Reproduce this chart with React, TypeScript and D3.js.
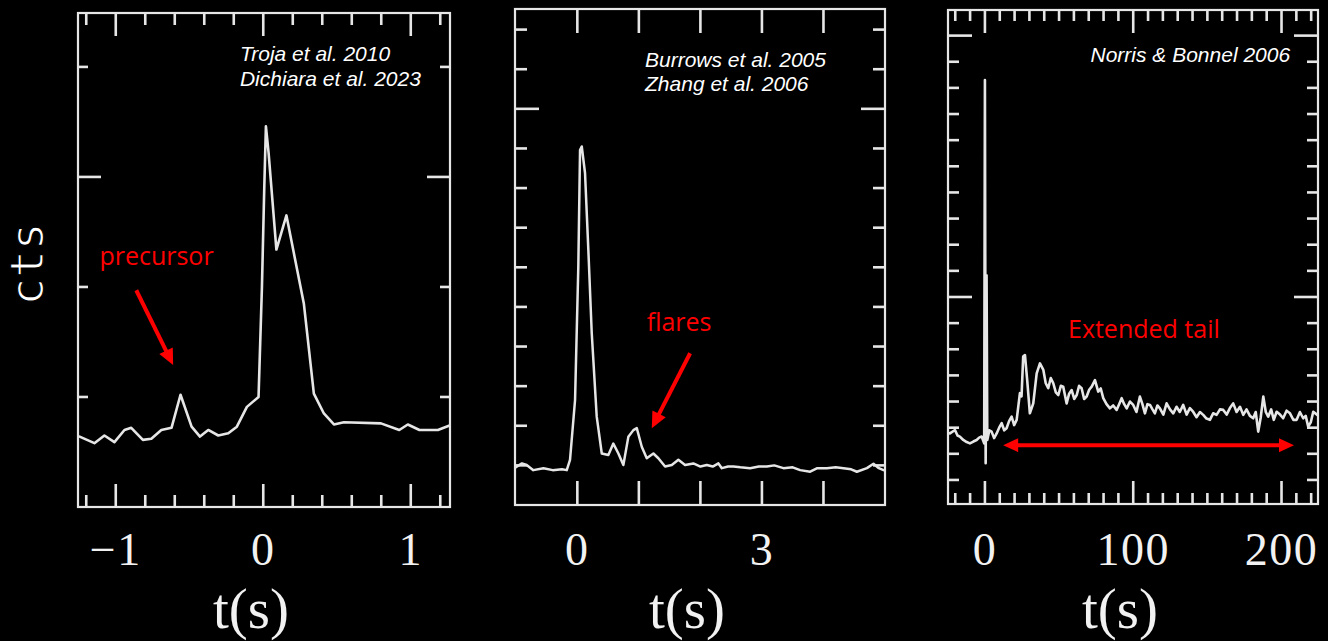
import React from "react";
import * as d3 from "d3";

// ---------- DATA ----------
// Panel 1 (Troja et al. 2010 / Dichiara et al. 2023): [t (s), counts]
const panel1Series: [number, number][] = [
  [-1.245, 0.64], [-1.145, 0.58], [-1.077, 0.65], [-1.009, 0.59], [-0.941, 0.7],
  [-0.895, 0.72], [-0.816, 0.61], [-0.759, 0.62], [-0.691, 0.7], [-0.622, 0.72],
  [-0.561, 1.02], [-0.486, 0.73], [-0.429, 0.64], [-0.373, 0.7], [-0.305, 0.65],
  [-0.237, 0.67], [-0.179, 0.73], [-0.111, 0.91], [-0.032, 1.0], [-0.009, 2.0],
  [0.007, 2.91], [0.018, 3.46], [0.036, 3.22], [0.089, 2.34], [0.157, 2.65],
  [0.207, 2.31], [0.275, 1.85], [0.343, 1.03], [0.411, 0.85], [0.479, 0.75],
  [0.547, 0.77], [0.798, 0.76], [0.922, 0.7], [0.98, 0.75], [1.059, 0.7],
  [1.184, 0.7], [1.263, 0.74],
];
// Panel 2 (Burrows et al. 2005 / Zhang et al. 2006)
const panel2Series: [number, number][] = [
  [-1.0, 0.95], [-0.985, 0.97], [-0.9, 1.05], [-0.823, 1.01], [-0.715, 0.88],
  [-0.55, 0.93], [-0.4, 0.88], [-0.25, 0.9], [-0.172, 0.88], [-0.119, 1.14],
  [-0.037, 2.65], [0.016, 6.02], [0.044, 8.96], [0.072, 9.05], [0.125, 8.38],
  [0.179, 6.44], [0.234, 4.34], [0.315, 2.23], [0.397, 1.3], [0.504, 1.26],
  [0.585, 1.55], [0.667, 1.3], [0.748, 1.01], [0.829, 1.72], [0.911, 1.89],
  [0.966, 1.94], [1.047, 1.47], [1.128, 1.18], [1.236, 1.3], [1.317, 1.18],
  [1.426, 0.97], [1.535, 1.01], [1.642, 1.14], [1.751, 1.01], [1.886, 1.05],
  [2.0, 0.97], [2.104, 1.01], [2.2, 0.97], [2.293, 1.05], [2.348, 0.93],
  [2.45, 0.97], [2.537, 0.97], [2.65, 0.95], [2.808, 0.93], [2.95, 0.97],
  [3.08, 0.97], [3.2, 1.0], [3.35, 0.93], [3.5, 0.95], [3.621, 0.88],
  [3.784, 0.84], [3.9, 0.93], [4.055, 0.93], [4.2, 0.95], [4.325, 0.93],
  [4.45, 0.9], [4.543, 0.84], [4.706, 0.93], [4.813, 1.04], [4.9, 0.93],
  [4.976, 0.88],
];
// Panel 3 (Norris & Bonnel 2006)
const panel3Series: [number, number][] = [
  [-24.5, 4.8], [-23.6, 4.78], [-20.2, 4.91], [-18.5, 4.7], [-16.9, 4.66],
  [-14.6, 4.53], [-12.3, 4.45], [-10.1, 4.4], [-7.8, 4.47], [-5.6, 4.53],
  [-3.9, 4.62], [-2.2, 4.66], [-0.5, 4.4], [0, 18.3], [0.5, 3.64], [1.1, 10.83],
  [1.6, 4.53], [3.0, 4.9], [4.5, 4.85], [6.2, 4.6], [7.9, 4.78], [9.6, 5.0],
  [11.3, 5.17], [13.0, 4.9], [14.6, 4.98], [16.3, 5.25], [18.0, 5.42], [19.7, 5.1],
  [21.4, 5.3], [23.6, 6.32], [24.7, 6.2], [25.8, 7.72], [27.0, 7.78], [28.5, 6.82],
  [30.3, 5.55], [32.6, 5.93], [34.9, 7.08], [37.1, 7.46], [39.4, 7.21], [41.0, 6.7],
  [42.7, 6.51], [44.4, 6.9], [46.1, 6.7], [47.8, 6.35], [49.5, 6.25], [51.2, 6.6],
  [52.8, 6.57], [55.1, 5.93], [56.8, 6.3], [58.5, 6.44], [60.2, 6.1], [61.9, 6.25],
  [63.5, 6.6], [65.2, 6.51], [66.9, 6.1], [68.6, 6.19], [70.3, 6.45], [72.0, 6.57],
  [74.2, 6.82], [76.4, 6.38], [78.1, 6.5], [79.8, 6.13], [82.0, 5.9], [84.3, 5.74],
  [86.5, 5.85], [88.8, 5.68], [90.5, 5.9], [92.2, 6.13], [93.9, 5.9], [95.6, 5.74],
  [97.8, 6.0], [100.0, 5.87], [102.2, 5.6], [104.5, 6.19], [106.2, 5.9], [107.9, 5.55],
  [109.6, 5.9], [111.3, 5.87], [113.0, 5.7], [114.6, 5.55], [116.3, 5.85], [118.0, 5.74],
  [120.3, 5.5], [122.5, 5.93], [124.8, 5.7], [127.0, 5.55], [129.2, 5.8], [131.4, 5.6],
  [133.7, 5.87], [136.0, 5.5], [138.2, 5.75], [140.4, 5.61], [142.7, 5.4], [145.0, 5.6],
  [147.2, 5.49], [149.4, 5.35], [151.7, 5.3], [153.9, 5.55], [156.2, 5.49], [158.5, 5.7],
  [160.7, 5.68], [163.0, 5.5], [165.2, 5.75], [167.4, 5.93], [169.7, 5.6], [172.0, 5.8],
  [174.2, 5.49], [176.4, 5.7], [178.7, 5.45], [180.9, 5.36], [182.6, 5.6], [184.3, 4.85],
  [186.0, 5.4], [187.7, 6.19], [189.4, 5.6], [191.0, 5.42], [193.0, 5.7], [194.8, 5.3],
  [196.7, 5.61], [199.0, 5.5], [201.1, 5.36], [203.4, 5.65], [205.7, 5.55], [208.0, 5.3],
  [210.2, 5.3], [212.4, 5.6], [214.6, 5.36], [216.3, 5.45], [218.0, 5.04], [219.7, 5.2],
  [221.4, 5.61], [224.1, 5.49],
];

// Tick values
const p1MinorX = [-1.2, -1.0, -0.8, -0.6, -0.4, -0.2, 0, 0.2, 0.4, 0.6, 0.8, 1.0, 1.2];
const p1MajorX = [-1, 0, 1];
const p1LabelsX = ["\u22121", "0", "1"];
const p1TicksY = [1, 2, 3, 4];
const p1MajorY = [3];

const p2TicksX = [0, 1, 2, 3, 4];
const p2MajorX = [0, 1, 2, 3, 4];
const p2LabelValues = [0, 3];
const p2LabelsX = ["0", "3"];
const p2TicksY = [1, 2, 3, 4, 5, 6, 7, 8, 9, 10, 11, 12];
const p2MajorY = [10];

const p3MinorX = d3.range(-20, 221, 10);
const p3MajorX = [0, 100, 200];
const p3LabelsX = ["0", "100", "200"];
const p3TicksY = d3.range(3, 21, 1);
const p3MajorY = [10, 20];

// Annotations
const p1Cite = ["Troja et al. 2010", "Dichiara et al. 2023"];
const p2Cite = ["Burrows et al. 2005", "Zhang et al. 2006"];
const p3Cite = ["Norris & Bonnel 2006"];

// ---------- LAYOUT ----------
type Panel = {
  left: number; right: number; top: number; bottom: number;
  xDomain: [number, number]; yDomain: [number, number];
  series: [number, number][];
  xTicks: number[]; xMajor: number[]; labelVals: number[]; labels: string[];
  yTicks: number[]; yMajor: number[];
  minorLen: number; majorLen: number; yMinorLen: number; yMajorLen: number;
  lineWidth: number;
};

const panels: Panel[] = [
  {
    left: 78, right: 450, top: 13, bottom: 507,
    xDomain: [-1.256, 1.266], yDomain: [0, 4.49], series: panel1Series,
    xTicks: p1MinorX, xMajor: p1MajorX, labelVals: p1MajorX, labels: p1LabelsX,
    yTicks: p1TicksY, yMajor: p1MajorY,
    minorLen: 12, majorLen: 23, yMinorLen: 10, yMajorLen: 23, lineWidth: 2.6,
  },
  {
    left: 515, right: 885, top: 9, bottom: 505,
    xDomain: [-1.013, 5.0], yDomain: [0, 12.52], series: panel2Series,
    xTicks: p2TicksX, xMajor: p2MajorX, labelVals: p2LabelValues, labels: p2LabelsX,
    yTicks: p2TicksY, yMajor: p2MajorY,
    minorLen: 12, majorLen: 24, yMinorLen: 12, yMajorLen: 24, lineWidth: 2.5,
  },
  {
    left: 948, right: 1318, top: 10, bottom: 504,
    xDomain: [-24.9, 224.6], yDomain: [2.08, 20.98], series: panel3Series,
    xTicks: p3MinorX, xMajor: p3MajorX, labelVals: p3MajorX, labels: p3LabelsX,
    yTicks: p3TicksY, yMajor: p3MajorY,
    minorLen: 11, majorLen: 23, yMinorLen: 11, yMajorLen: 24, lineWidth: 2.6,
  },
];

const FG = "#e6e6e6";
const RED = "#ff0000";

function arrowHead(x1: number, y1: number, x2: number, y2: number, len: number, hw: number) {
  const dx = x2 - x1, dy = y2 - y1;
  const L = Math.hypot(dx, dy);
  const ux = dx / L, uy = dy / L;
  const bx = x2 - ux * len, by = y2 - uy * len;
  const px = -uy, py = ux;
  return `${x2},${y2} ${bx + px * hw},${by + py * hw} ${bx - px * hw},${by - py * hw}`;
}

function PanelView({ p, children }: { p: Panel; children?: (x: any, y: any) => React.ReactNode }) {
  const x = d3.scaleLinear().domain(p.xDomain).range([p.left, p.right]);
  const y = d3.scaleLinear().domain(p.yDomain).range([p.bottom, p.top]);
  const line = d3.line<[number, number]>().x((d) => x(d[0])).y((d) => y(d[1])).curve(d3.curveLinear);
  const cx = (p.left + p.right) / 2;
  return (
    <g>
      <rect x={p.left} y={p.top} width={p.right - p.left} height={p.bottom - p.top}
        fill="none" stroke={FG} strokeWidth={2.2} />
      {p.xTicks.map((t, i) => {
        const len = p.xMajor.includes(t) ? p.majorLen : p.minorLen;
        return (
          <g key={"xt" + i} stroke={FG} strokeWidth={2.6}>
            <line x1={x(t)} x2={x(t)} y1={p.bottom} y2={p.bottom - len} />
            <line x1={x(t)} x2={x(t)} y1={p.top} y2={p.top + len} />
          </g>
        );
      })}
      {p.yTicks.map((t, i) => {
        const len = p.yMajor.includes(t) ? p.yMajorLen : p.yMinorLen;
        return (
          <g key={"yt" + i} stroke={FG} strokeWidth={2.6}>
            <line x1={p.left} x2={p.left + len} y1={y(t)} y2={y(t)} />
            <line x1={p.right} x2={p.right - len} y1={y(t)} y2={y(t)} />
          </g>
        );
      })}
      {p.labelVals.map((t, i) => (
        <text key={"lb" + i} x={x(t)} y={565} textAnchor="middle"
          fontFamily="'Liberation Serif', 'Times New Roman', serif" fontSize={46}
          letterSpacing={1.5} fill="#f2f2f2">
          {p.labels[i]}
        </text>
      ))}
      <text x={cx - 13} y={628} textAnchor="middle"
        fontFamily="'Liberation Serif', 'Times New Roman', serif" fontSize={57} fill="#f2f2f2">
        t(s)
      </text>
      <path d={line(p.series) || ""} fill="none" stroke={FG} strokeWidth={p.lineWidth}
        strokeLinejoin="round" strokeLinecap="round" />
      {children ? children(x, y) : null}
    </g>
  );
}

const citeStyle = {
  fontFamily: "'Liberation Sans', Arial, sans-serif",
  fontStyle: "italic" as const,
  fontSize: 21,
  fill: "#ffffff",
};
const redText = {
  fontFamily: "'Open Sans', sans-serif",
  fontSize: 25,
  fill: RED,
};

export default function App() {
  return (
    <svg width={1328} height={641} style={{ position: "absolute", left: 0, top: 0, display: "block" }}>
      <rect x={0} y={0} width={1328} height={641} fill="#000" />
      {/* y axis label */}
      <text transform="translate(43,264) rotate(-90)" textAnchor="middle"
        fontFamily="'DejaVu Sans Mono', monospace" fontSize={46} fill="#ffffff"
        stroke="#000" strokeWidth={1.2} style={{ paintOrder: "fill" } as any}>
        cts
      </text>

      <PanelView p={panels[0]}>
        {(x, y) => {
          const x1 = x(-0.861), y1 = y(1.97), x2 = x(-0.611), y2 = y(1.29);
          return (
            <g>
              <text x={x(-0.158)} y={y(4.05)} style={citeStyle}>{p1Cite[0]}</text>
              <text x={x(-0.158)} y={y(3.83)} style={citeStyle}>{p1Cite[1]}</text>
              <text x={x(-1.111)} y={y(2.2)} style={redText}>precursor</text>
              <line x1={x1} y1={y1} x2={x2 - (x2 - x1) * 0.12} y2={y2 - (y2 - y1) * 0.12}
                stroke={RED} strokeWidth={4} />
              <polygon points={arrowHead(x1, y1, x2, y2, 16, 7.5)} fill={RED} />
            </g>
          );
        }}
      </PanelView>

      <PanelView p={panels[1]}>
        {(x, y) => {
          const x1 = x(1.833), y1 = y(3.83), x2 = x(1.21), y2 = y(1.94);
          return (
            <g>
              <text x={x(1.10)} y={y(11.06)} style={citeStyle}>{p2Cite[0]}</text>
              <text x={x(1.10)} y={y(10.45)} style={citeStyle}>{p2Cite[1]}</text>
              <text x={x(1.128)} y={y(4.38)} style={redText}>flares</text>
              <line x1={x1} y1={y1} x2={x2 - (x2 - x1) * 0.15} y2={y2 - (y2 - y1) * 0.15}
                stroke={RED} strokeWidth={4} />
              <polygon points={arrowHead(x1, y1, x2, y2, 16, 7.5)} fill={RED} />
            </g>
          );
        }}
      </PanelView>

      <PanelView p={panels[2]}>
        {(x, y) => {
          const xa = x(12.3), xb = x(208.4), ya = y(4.33);
          return (
            <g>
              <text x={x(205.8)} y={y(19.0)} textAnchor="end" style={citeStyle}>{p3Cite[0]}</text>
              <text x={x(107.2)} y={y(8.45)} textAnchor="middle" style={redText}>Extended tail</text>
              <line x1={xa + 12} y1={ya} x2={xb - 12} y2={ya} stroke={RED} strokeWidth={4} />
              <polygon points={arrowHead(xb, ya, xa, ya, 15, 7)} fill={RED} />
              <polygon points={arrowHead(xa, ya, xb, ya, 15, 7)} fill={RED} />
            </g>
          );
        }}
      </PanelView>
    </svg>
  );
}
